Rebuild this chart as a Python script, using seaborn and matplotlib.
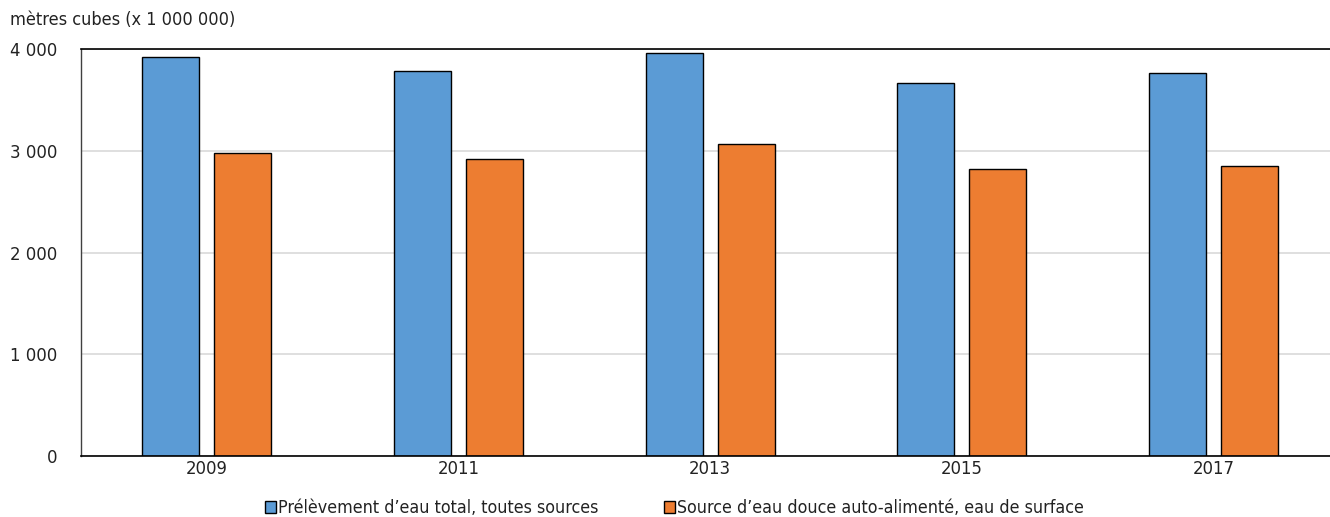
import matplotlib
matplotlib.use("Agg")
import matplotlib.pyplot as plt
import seaborn as sns
import pandas as pd

years = ["2009", "2011", "2013", "2015", "2017"]
series_names = ["Prélèvement d\u2019eau total, toutes sources",
                "Source d\u2019eau douce auto-alimenté, eau de surface"]
total = [3920, 3785, 3965, 3663, 3767]
surface = [2980, 2920, 3070, 2818, 2853]
y_ticks = [0, 1000, 2000, 3000, 4000]
y_tick_labels = ["0", "1 000", "2 000", "3 000", "4 000"]
y_title = "mètres cubes (x 1 000 000)"
colors = ["#5B9BD5", "#ED7D31"]

df = pd.DataFrame({
    "year": years * 2,
    "value": total + surface,
    "series": [series_names[0]] * len(years) + [series_names[1]] * len(years),
})

sns.set_theme(style="white")
plt.rcParams["font.family"] = ["DejaVu Sans"]
plt.rcParams["font.stretch"] = "condensed"
text_color = "#222222"

fig = plt.figure(figsize=(13.3, 5.17), dpi=100)
ax = fig.add_axes([80.6 / 1330, 61 / 517, 1259 / 1330, 407 / 517])

sns.barplot(data=df, x="year", y="value", hue="series", order=years,
            hue_order=series_names, palette=colors, width=0.572, gap=0.21,
            edgecolor="black", linewidth=1.0, saturation=1, ax=ax, legend=True)

ax.set_ylim(0, 4000)
ax.set_xlim(-0.5, len(years) - 0.5)
ax.set_yticks(y_ticks)
ax.set_yticklabels(y_tick_labels)
ax.yaxis.grid(True, color="#D9D9D9", linewidth=1.2)
ax.set_axisbelow(True)
ax.set_xlabel("")
ax.set_ylabel("")
ax.tick_params(axis="both", length=0, labelsize=13.2, colors=text_color)
ax.tick_params(axis="y", pad=17)
ax.tick_params(axis="x", pad=3)

ax.spines["right"].set_visible(False)
ax.spines["top"].set_color("black")
ax.spines["top"].set_linewidth(1.2)
ax.spines["bottom"].set_color("black")
ax.spines["bottom"].set_linewidth(1.2)
ax.spines["left"].set_color("#404040")
ax.spines["left"].set_linewidth(1.0)

fig.text(10 / 1330, 1 - 20 / 517, y_title, fontsize=13, color=text_color,
         ha="left", va="center")

handles, labels = ax.get_legend_handles_labels()
ax.get_legend().remove()
fig.legend(handles, labels, loc="center", bbox_to_anchor=(674.5 / 1330, 1 - 508 / 517),
           ncol=2, frameon=False, fontsize=12.8, handlelength=0.62, handleheight=0.62,
           handletextpad=0.15, columnspacing=3.65, labelcolor=text_color)

fig.savefig("out.png", dpi=100)
